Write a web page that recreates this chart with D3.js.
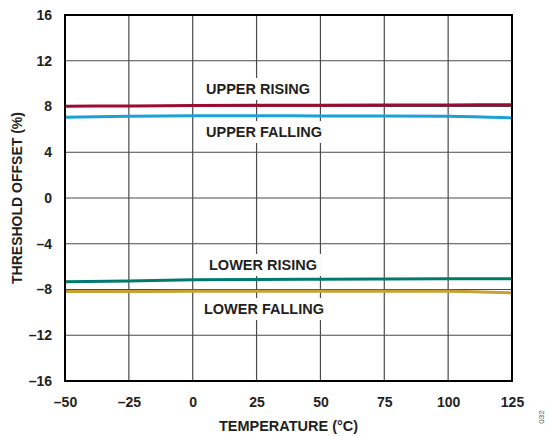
<!DOCTYPE html>
<html><head><meta charset="utf-8">
<script src="https://cdn.jsdelivr.net/npm/d3@7"></script>
<style>body{margin:0;background:#fff}text{font-family:"Liberation Sans",Arial,sans-serif}</style>
</head><body><svg id="c" width="550" height="436"></svg>
<script>
const temps = [-50, -25, 0, 25, 50, 75, 100, 125];
const upperRising  = [8.02, 8.05, 8.08, 8.10, 8.12, 8.13, 8.14, 8.15];
const upperFalling = [7.05, 7.15, 7.20, 7.20, 7.18, 7.17, 7.15, 7.00];
const lowerRising  = [-7.32, -7.25, -7.15, -7.12, -7.10, -7.08, -7.07, -7.07];
const lowerFalling = [-8.18, -8.17, -8.15, -8.15, -8.15, -8.15, -8.16, -8.30];
const xTicks = [-50, -25, 0, 25, 50, 75, 100, 125];
const yTicks = [-16, -12, -8, -4, 0, 4, 8, 12, 16];
const seriesNames = ["UPPER RISING", "UPPER FALLING", "LOWER RISING", "LOWER FALLING"];
const seriesColors = ["#9e0b32", "#1ca0d8", "#007a6e", "#c9a032"];
const seriesData = [upperRising, upperFalling, lowerRising, lowerFalling];

const svg = d3.select("#c");
const L = 65, R = 512, T = 15, B = 381;
const x = d3.scaleLinear().domain([-50, 125]).range([L, R]);
const y = d3.scaleLinear().domain([-16, 16]).range([B, T]);
const fmt = v => v < 0 ? "\u2013" + Math.abs(v) : String(v);
const FONT = "Liberation Sans, Arial, sans-serif";

// grid
svg.append("g").selectAll("line").data(xTicks.slice(1, -1)).join("line")
  .attr("x1", d => x(d)).attr("x2", d => x(d)).attr("y1", T).attr("y2", B)
  .attr("stroke", "#4a4a4a").attr("stroke-width", 1.2);
svg.append("g").selectAll("line").data(yTicks.slice(1, -1)).join("line")
  .attr("y1", d => y(d)).attr("y2", d => y(d)).attr("x1", L).attr("x2", R)
  .attr("stroke", "#4a4a4a").attr("stroke-width", 1.2);

// labels with white backgrounds
const labels = [
  {t: seriesNames[0], cx: 258, cy: 89},
  {t: seriesNames[1], cx: 264, cy: 132},
  {t: seriesNames[2], cx: 263, cy: 265},
  {t: seriesNames[3], cx: 264, cy: 309}
];
const lg = svg.append("g");
labels.forEach(l => {
  const tx = lg.append("text").attr("x", l.cx).attr("y", l.cy).attr("text-anchor", "middle")
    .attr("dominant-baseline", "central").attr("font-size", 14.5).attr("font-weight", "bold")
    .attr("fill", "#231f20").text(l.t);
  const bb = tx.node().getBBox();
  lg.insert("rect", "text").attr("x", bb.x - 4).attr("y", bb.y - 3).attr("width", bb.width + 8)
    .attr("height", bb.height + 6).attr("fill", "#fff");
});

// lines
const line = d3.line().x((d, i) => x(temps[i])).y(d => y(d)).curve(d3.curveMonotoneX);
seriesData.forEach((s, k) => {
  svg.append("path").attr("d", line(s)).attr("fill", "none")
    .attr("stroke", seriesColors[k]).attr("stroke-width", 3);
});

// border
svg.append("rect").attr("x", L).attr("y", T).attr("width", R - L).attr("height", B - T)
  .attr("fill", "none").attr("stroke", "#000").attr("stroke-width", 2);

// axes labels
const xa = svg.append("g").attr("transform", `translate(0,${B})`)
  .call(d3.axisBottom(x).tickValues(xTicks).tickSize(0).tickPadding(16).tickFormat(fmt));
xa.select(".domain").remove();
xa.selectAll("text").attr("font-size", 14).attr("font-weight", "bold").attr("fill", "#231f20")
  .attr("font-family", FONT);
const ya = svg.append("g").attr("transform", `translate(${L},0)`)
  .call(d3.axisLeft(y).tickValues(yTicks).tickSize(0).tickPadding(13).tickFormat(fmt));
ya.select(".domain").remove();
ya.selectAll("text").attr("font-size", 14).attr("font-weight", "bold").attr("fill", "#231f20")
  .attr("font-family", FONT);

svg.append("text").attr("x", (L + R) / 2).attr("y", 431).attr("text-anchor", "middle")
  .attr("font-size", 14.5).attr("font-weight", "bold").attr("fill", "#231f20").text("TEMPERATURE (°C)");
svg.append("text").attr("transform", `translate(22,${(T + B) / 2}) rotate(-90)`).attr("text-anchor", "middle")
  .attr("font-size", 14).attr("font-weight", "bold").attr("fill", "#231f20").text("THRESHOLD OFFSET (%)");
svg.append("text").attr("transform", "translate(544,417) rotate(-90)").attr("text-anchor", "middle")
  .attr("font-size", 8).attr("fill", "#555").text("032");
</script></body></html>
